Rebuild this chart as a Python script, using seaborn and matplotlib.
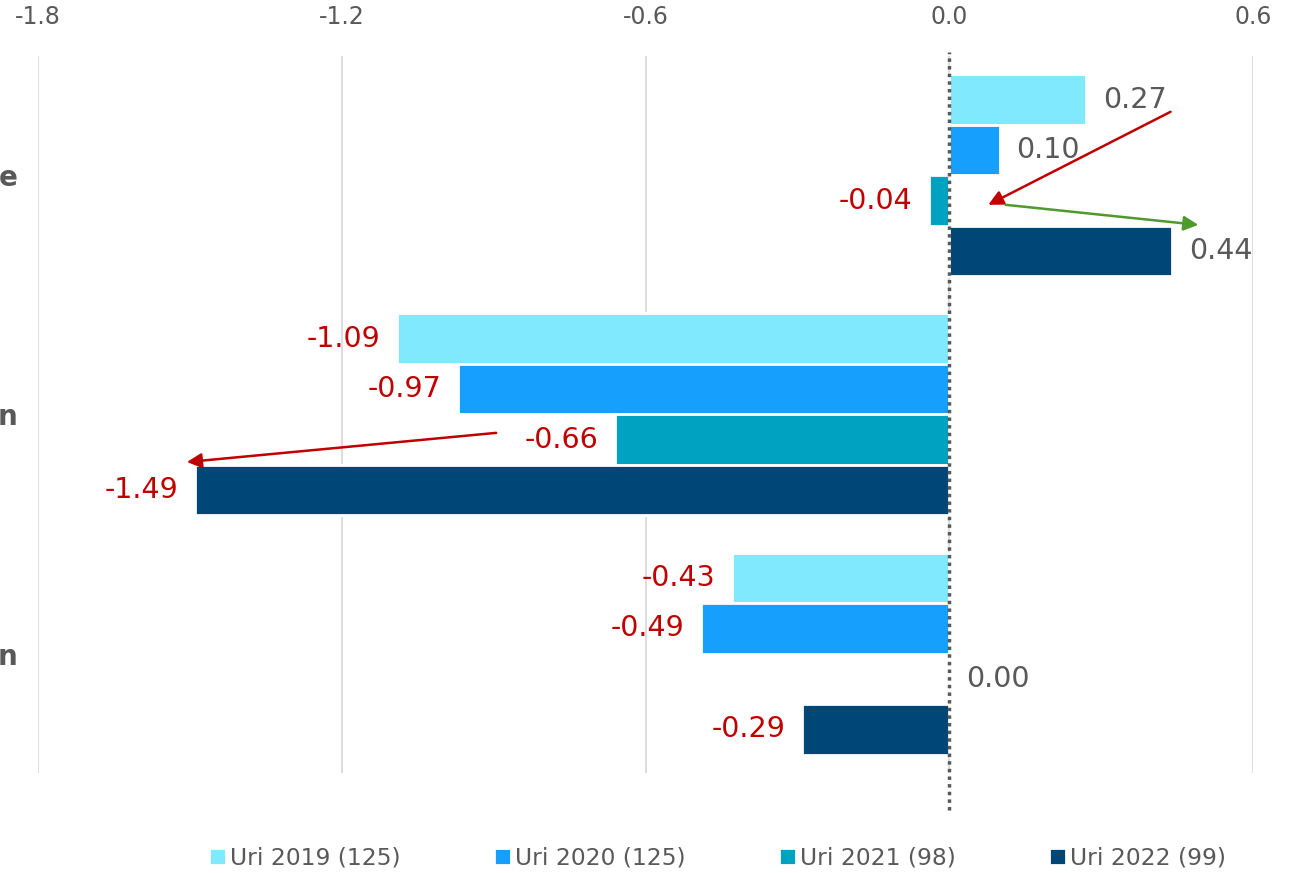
import pandas as pd
import matplotlib.pyplot as plt
import seaborn as sns

# Data
cat_keys = ["c1", "c2", "c3"]
cat_labels = ["e", "n", "n"]
years = ["Uri 2019 (125)", "Uri 2020 (125)", "Uri 2021 (98)", "Uri 2022 (99)"]
vals_2019 = [0.27, -1.09, -0.43]
vals_2020 = [0.10, -0.97, -0.49]
vals_2021 = [-0.04, -0.66, 0.00]
vals_2022 = [0.44, -1.49, -0.29]
colors = ["#80E9FE", "#179FFE", "#00A2C2", "#004677"]
x_ticks = [-1.8, -1.2, -0.6, 0.0, 0.6]

# annotation arrows (start, end) in data coords, colour
arrows = [
    ((0.437, -0.266), (0.077, 0.123), "#C00000"),
    ((0.111, 0.123), (0.492, 0.207), "#4E9A2A"),
    ((-0.895, 1.077), (-1.506, 1.199), "#C00000"),
]

rows = []
for yr, vals in zip(years, [vals_2019, vals_2020, vals_2021, vals_2022]):
    for cat, v in zip(cat_keys, vals):
        rows.append({"cat": cat, "year": yr, "value": v})
df = pd.DataFrame(rows)

sns.set_style("white")
plt.rcParams['font.family'] = ['DejaVu Sans']
plt.rcParams['axes.unicode_minus'] = False

fig = plt.figure(figsize=(13.02, 8.73), dpi=100)
ax = fig.add_axes([0.0292, 0.1145, 0.9332, 0.8215])

sns.barplot(data=df, y="cat", x="value", hue="year", orient="h", saturation=1,
            palette=colors, width=0.845, ax=ax, edgecolor="white", linewidth=2)

ax.set_xlim(-1.8, 0.6)
ax.set_xticks(x_ticks)
ax.set_xticklabels([f"{t:.1f}" for t in x_ticks])
ax.xaxis.tick_top()
ax.tick_params(axis="x", length=0, pad=19, labelsize=17, labelcolor="#595959")
ax.set_yticks(range(len(cat_keys)))
ax.set_yticklabels(cat_labels, fontweight="bold")
ax.tick_params(axis="y", length=0, pad=15, labelsize=20, labelcolor="#595959")
ax.set_xlabel("")
ax.set_ylabel("")
for s in ax.spines.values():
    s.set_visible(False)
ax.grid(axis="x", color="#DEDEDE", linewidth=1.5)
ax.set_axisbelow(True)
ax.axvline(0, ymin=-0.052, ymax=1.005, color="#595959", linestyle=(0, (1, 1.2)),
           linewidth=2.5, clip_on=False, zorder=5)

# value labels
for cont in ax.containers:
    for bar in cont:
        v = bar.get_width()
        yc = bar.get_y() + bar.get_height() / 2
        if v < 0:
            ax.annotate(f"{v:.2f}", (v, yc), xytext=(-12, 0), textcoords="offset points",
                        ha="right", va="center", fontsize=20.5, color="#C00000")
        else:
            ax.annotate(f"{v:.2f}", (v, yc), xytext=(12, 0), textcoords="offset points",
                        ha="left", va="center", fontsize=20.5, color="#595959")

for start, end, col in arrows:
    ax.annotate("", xy=end, xytext=start,
                arrowprops=dict(arrowstyle="-|>", color=col, lw=1.8, mutation_scale=22,
                                shrinkA=0, shrinkB=0))

handles, labels = ax.get_legend_handles_labels()
ax.get_legend().remove()
fig.legend(handles, labels, loc="center", bbox_to_anchor=(0.551, 0.017), ncol=4,
           frameon=False, fontsize=16.8, labelcolor="#595959", columnspacing=4,
           handlelength=0.75, handleheight=0.75, handletextpad=0.15)

fig.savefig("out.png", dpi=100)
